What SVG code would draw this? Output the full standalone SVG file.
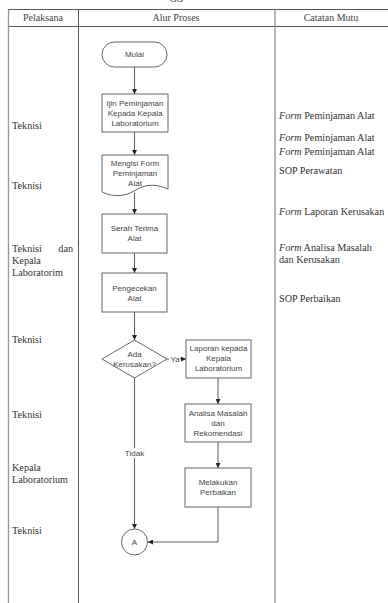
<svg xmlns="http://www.w3.org/2000/svg" width="388" height="603" viewBox="0 0 388 603">
  <style>
    .cell { font-family: "Liberation Serif", "DejaVu Serif", serif; font-size: 10.2px; fill: #333; }
    .head { font-family: "Liberation Serif", "DejaVu Serif", serif; font-size: 10px; fill: #444; text-anchor: middle; }
    .ital { font-style: italic; }
    .grid { stroke: #555; stroke-width: 1; fill: none; }
    .shape { fill: #fff; stroke: #555; stroke-width: 0.9; }
    .lbl { font-family: "Liberation Sans", Arial, sans-serif; font-size: 8px; fill: #444; text-anchor: middle; }
    .flow { stroke: #333; stroke-width: 0.8; fill: none; marker-end: url(#arr); }
  </style>
  <defs>
    <marker id="arr" viewBox="0 0 10 10" refX="10" refY="5" markerWidth="5" markerHeight="5" markerUnits="userSpaceOnUse" orient="auto">
      <path d="M0,0 L10,5 L0,10 Z" fill="#222"/>
    </marker>
  </defs>

  <rect width="388" height="603" fill="#fff"/>

  <!-- page text running off the top edge -->
  <text x="170" y="-1" font-family="Liberation Serif, serif" font-size="13" fill="#444">gg</text>

  <!-- table grid -->
  <g id="table">
    <line class="grid" x1="8" y1="9.5" x2="388" y2="9.5" stroke="#777"/>
    <line class="grid" x1="8" y1="26.5" x2="388" y2="26.5"/>
    <line x1="8.5" y1="9.5" x2="8.5" y2="603" stroke="#999" stroke-width="1.3"/>
    <line class="grid" x1="78.5" y1="9.5" x2="78.5" y2="603"/>
    <line x1="275" y1="9.5" x2="275" y2="603" stroke="#888" stroke-width="1.2"/>
    <text class="head" x="43" y="21">Pelaksana</text>
    <text class="head" x="176" y="21">Alur Proses</text>
    <text class="head" x="331" y="21">Catatan Mutu</text>
  </g>

  <!-- Pelaksana column -->
  <g id="pelaksana" class="cell">
    <text x="12" y="129">Teknisi</text>
    <text x="12" y="189">Teknisi</text>
    <text x="12" y="252">Teknisi</text>
    <text x="73" y="252" text-anchor="end">dan</text>
    <text x="12" y="264">Kepala</text>
    <text x="12" y="276">Laboratorim</text>
    <text x="12" y="343">Teknisi</text>
    <text x="12" y="418">Teknisi</text>
    <text x="12" y="471">Kepala</text>
    <text x="12" y="483">Laboratorium</text>
    <text x="12" y="534">Teknisi</text>
  </g>

  <!-- Catatan Mutu column -->
  <g id="catatan" class="cell">
    <text x="279" y="119"><tspan class="ital">Form</tspan> Peminjaman Alat</text>
    <text x="279" y="141"><tspan class="ital">Form</tspan> Peminjaman Alat</text>
    <text x="279" y="155"><tspan class="ital">Form</tspan> Peminjaman Alat</text>
    <text x="279" y="174">SOP Perawatan</text>
    <text x="279" y="215"><tspan class="ital">Form</tspan> Laporan Kerusakan</text>
    <text x="279" y="251"><tspan class="ital">Form</tspan> Analisa Masalah</text>
    <text x="279" y="263">dan Kerusakan</text>
    <text x="279" y="302">SOP Perbaikan</text>
  </g>

  <!-- connectors -->
  <g id="connectors">
    <line class="flow" x1="134.5" y1="67" x2="134.5" y2="94"/>
    <line class="flow" x1="134.5" y1="132" x2="134.5" y2="155"/>
    <line class="flow" x1="134.5" y1="193" x2="134.5" y2="214"/>
    <line class="flow" x1="134.5" y1="253" x2="134.5" y2="273"/>
    <line class="flow" x1="134.5" y1="312" x2="134.5" y2="340"/>
    <line class="flow" x1="167" y1="359" x2="186" y2="359"/>
    <line class="flow" x1="218" y1="378" x2="218" y2="404"/>
    <line class="flow" x1="218" y1="442" x2="218" y2="468"/>
    <polyline class="flow" points="218,507 218,542 148,542"/>
    <line class="flow" x1="134.5" y1="378" x2="134.5" y2="529"/>
    <rect x="169" y="354" width="11" height="10" fill="#fff"/>
    <text class="lbl" x="175" y="362">Ya</text>
    <rect x="121" y="448" width="27" height="10" fill="#fff"/>
    <text class="lbl" x="134.5" y="456">Tidak</text>
  </g>

  <!-- flow nodes -->
  <g id="mulai">
    <rect class="shape" x="102" y="42" width="65" height="25" rx="12.5"/>
    <text class="lbl" x="134.5" y="57">Mulai</text>
  </g>
  <g id="ijin">
    <rect class="shape" x="102" y="94" width="66" height="38"/>
    <text class="lbl" x="135" y="106">Ijin Peminjaman</text>
    <text class="lbl" x="135" y="116">Kepada Kepala</text>
    <text class="lbl" x="135" y="126">Laboratorium</text>
  </g>
  <g id="mengisi">
    <path class="shape" d="M102,155 H168 V189 C152,182 142,186 134,191 C124,197 112,197 102,192 Z"/>
    <text class="lbl" x="135" y="166">Mengisi Form</text>
    <text class="lbl" x="135" y="176">Peminjaman</text>
    <text class="lbl" x="135" y="186">Alat</text>
  </g>
  <g id="serah">
    <rect class="shape" x="102" y="214" width="65" height="39"/>
    <text class="lbl" x="134.5" y="231">Serah Terima</text>
    <text class="lbl" x="134.5" y="241">Alat</text>
  </g>
  <g id="pengecekan">
    <rect class="shape" x="102" y="273" width="65" height="39"/>
    <text class="lbl" x="134.5" y="291">Pengecekan</text>
    <text class="lbl" x="134.5" y="301">Alat</text>
  </g>
  <g id="keputusan">
    <polygon class="shape" points="134.5,340 167,359 134.5,378 102,359"/>
    <text class="lbl" x="134.5" y="357">Ada</text>
    <text class="lbl" x="134.5" y="367">Kerusakan?</text>
  </g>
  <g id="laporan">
    <rect class="shape" x="186" y="340" width="65" height="38"/>
    <text class="lbl" x="218.5" y="351">Laporan kepada</text>
    <text class="lbl" x="218.5" y="361">Kepala</text>
    <text class="lbl" x="218.5" y="371">Laboratorium</text>
  </g>
  <g id="analisa">
    <rect class="shape" x="185" y="404" width="66" height="38"/>
    <text class="lbl" x="218" y="416">Analisa Masalah</text>
    <text class="lbl" x="218" y="426">dan</text>
    <text class="lbl" x="218" y="436">Rekomendasi</text>
  </g>
  <g id="melakukan">
    <rect class="shape" x="185" y="468" width="66" height="39"/>
    <text class="lbl" x="218" y="485">Melakukan</text>
    <text class="lbl" x="218" y="495">Perbaikan</text>
  </g>
  <g id="konektor-a">
    <circle class="shape" cx="134.5" cy="542" r="13"/>
    <text class="lbl" x="134.5" y="545">A</text>
  </g>
</svg>
